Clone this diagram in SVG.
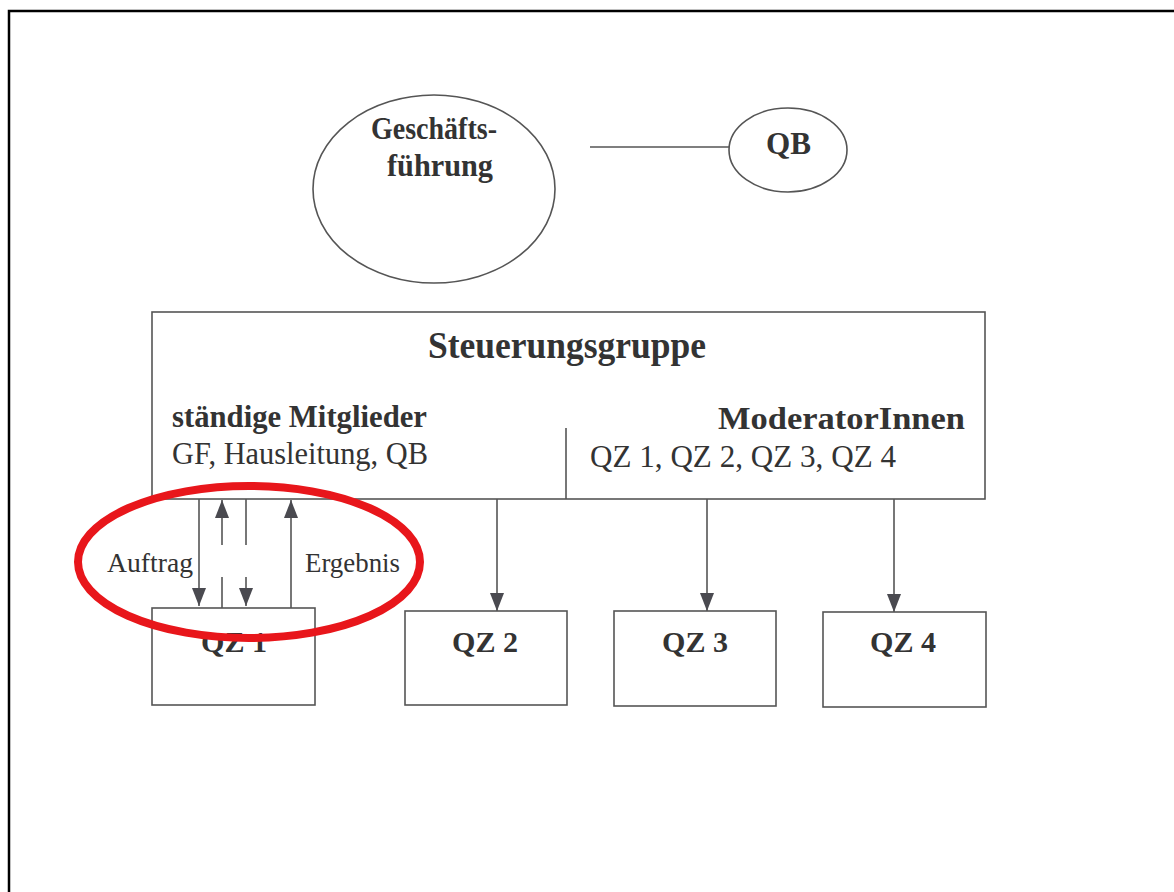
<svg xmlns="http://www.w3.org/2000/svg" width="1174" height="892" viewBox="0 0 1174 892">
<defs>
<style>
.ln{stroke:#555;stroke-width:1.6;fill:none}
.box{stroke:#555;stroke-width:1.6;fill:#fff}
.t{font-family:"Liberation Serif","Times New Roman",serif;fill:#333}
.b{font-weight:bold}
</style>
<marker id="ah2" viewBox="0 0 18 14" refX="18" refY="7" markerWidth="18" markerHeight="14" markerUnits="userSpaceOnUse" orient="auto">
<path d="M0,0 L18,7 L0,14 Z" fill="#4a4a50"/>
</marker>
</defs>
<rect width="1174" height="892" fill="#fff"/>
<path d="M9,892 V11 H1174" stroke="#000" stroke-width="2.5" fill="none"/>

<g id="connectors">
<line class="ln" x1="590" y1="147" x2="729" y2="147"/>
<line class="ln" x1="199" y1="499" x2="199" y2="606" marker-end="url(#ah2)"/>
<line class="ln" x1="222" y1="545" x2="222" y2="500" marker-end="url(#ah2)"/>
<line class="ln" x1="222" y1="577" x2="222" y2="608"/>
<line class="ln" x1="246" y1="499" x2="246" y2="545"/>
<line class="ln" x1="246" y1="577" x2="246" y2="606" marker-end="url(#ah2)"/>
<line class="ln" x1="291" y1="608" x2="291" y2="500" marker-end="url(#ah2)"/>
<line class="ln" x1="497" y1="499" x2="497" y2="611" marker-end="url(#ah2)"/>
<line class="ln" x1="707" y1="499" x2="707" y2="611" marker-end="url(#ah2)"/>
<line class="ln" x1="894" y1="499" x2="894" y2="612" marker-end="url(#ah2)"/>
<text class="t" x="107" y="572" font-size="27" textLength="86" lengthAdjust="spacingAndGlyphs" fill="#444">Auftrag</text>
<text class="t" x="305" y="572" font-size="27" textLength="95" lengthAdjust="spacingAndGlyphs" fill="#444">Ergebnis</text>
</g>

<g id="gf">
<ellipse class="box" cx="434" cy="189" rx="121" ry="94"/>
<text class="t b" x="371" y="139" font-size="31" textLength="126" lengthAdjust="spacingAndGlyphs">Geschäfts-</text>
<text class="t b" x="387" y="176" font-size="31" textLength="106" lengthAdjust="spacingAndGlyphs">führung</text>
</g>

<g id="qb">
<ellipse class="box" cx="788" cy="150" rx="59" ry="42"/>
<text class="t b" x="766" y="154" font-size="32" textLength="45" lengthAdjust="spacingAndGlyphs">QB</text>
</g>

<g id="steuerungsgruppe">
<rect class="box" x="152" y="312" width="833" height="187"/>
<line class="ln" x1="566" y1="428" x2="566" y2="499"/>
<text class="t b" x="428" y="358" font-size="38" textLength="278" lengthAdjust="spacingAndGlyphs">Steuerungsgruppe</text>
<text class="t b" x="172" y="427" font-size="31" textLength="255" lengthAdjust="spacingAndGlyphs">ständige Mitglieder</text>
<text class="t" x="172" y="464" font-size="31" textLength="256" lengthAdjust="spacingAndGlyphs">GF, Hausleitung, QB</text>
<text class="t b" x="718" y="429" font-size="31" textLength="247" lengthAdjust="spacingAndGlyphs">ModeratorInnen</text>
<text class="t" x="590" y="467" font-size="31" textLength="306" lengthAdjust="spacingAndGlyphs">QZ 1, QZ 2, QZ 3, QZ 4</text>
</g>

<g id="qz1">
<rect class="box" x="152" y="608" width="163" height="97"/>
<text class="t b" x="201" y="652" font-size="30" textLength="66" lengthAdjust="spacingAndGlyphs">QZ 1</text>
</g>
<g id="qz2">
<rect class="box" x="405" y="611" width="162" height="94"/>
<text class="t b" x="452" y="652" font-size="30" textLength="66" lengthAdjust="spacingAndGlyphs">QZ 2</text>
</g>
<g id="qz3">
<rect class="box" x="614" y="611" width="162" height="95"/>
<text class="t b" x="662" y="652" font-size="30" textLength="66" lengthAdjust="spacingAndGlyphs">QZ 3</text>
</g>
<g id="qz4">
<rect class="box" x="823" y="612" width="163" height="95"/>
<text class="t b" x="870" y="652" font-size="30" textLength="66" lengthAdjust="spacingAndGlyphs">QZ 4</text>
</g>

<g id="highlight">
<ellipse cx="249" cy="562" rx="171" ry="76" fill="none" stroke="#e8161b" stroke-width="8"/>
</g>
</svg>
